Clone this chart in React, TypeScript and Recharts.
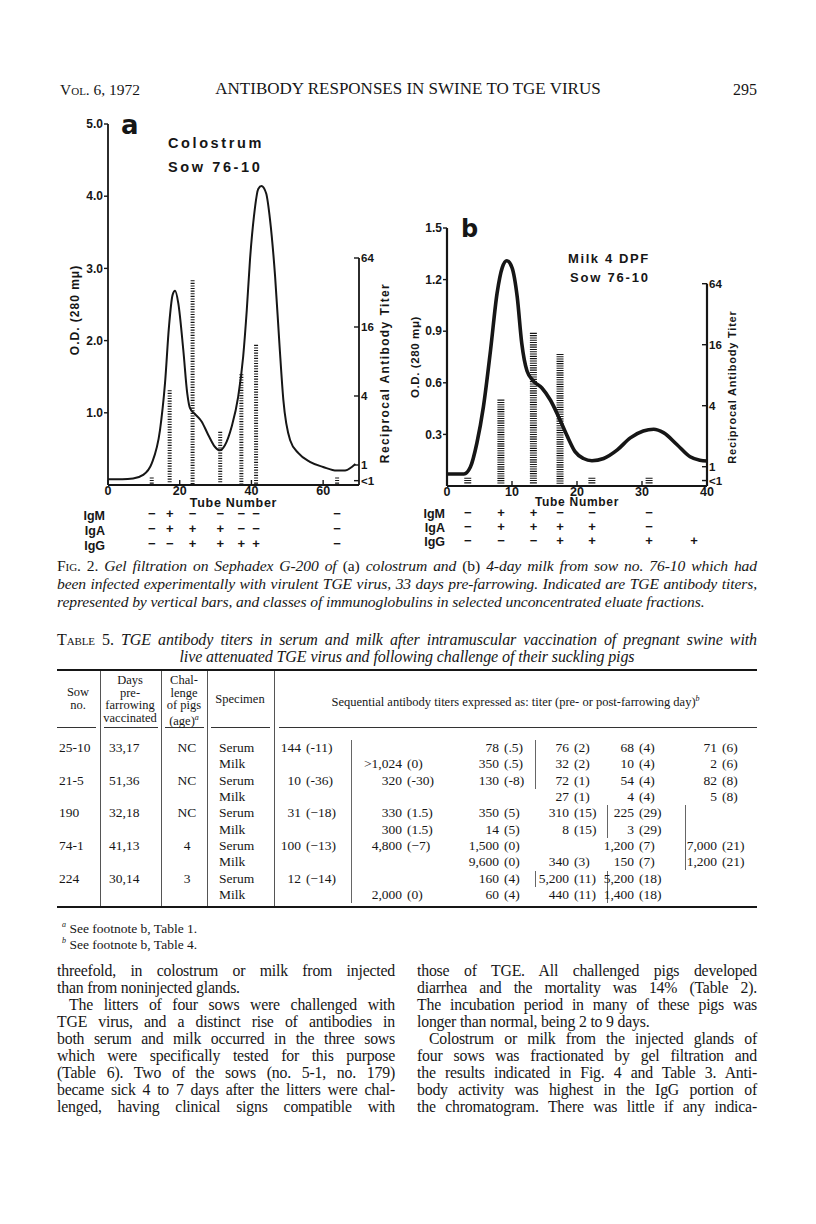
import React from "react";
import { Bar, ComposedChart, Line, ReferenceLine, XAxis, YAxis } from "recharts";

const INK = "#161616";
const SANS = "'Liberation Sans', Arial, sans-serif";
const HEAVY = "'DejaVu Sans', 'Liberation Sans', sans-serif";
const SERIF = "'Liberation Serif', 'Times New Roman', serif";

// Fig. 2a - colostrum, sow 76-10: elution curve (tube number / O.D. 280 mμ)
const tubesA = [0, 4, 7, 9.8, 12.2, 14.5, 15.9, 17, 18, 18.7, 19.6, 21, 22.1, 22.9, 24.3, 26.1, 28, 29.8, 31.2, 32.6, 34.5, 36.3, 37.7, 38.7, 39.6, 40.7, 41.9, 42.8, 44.1, 45.2, 46.6, 47.8, 48.9, 50.8, 53.1, 56.3, 60, 63.8, 66.1, 68, 69];
const odA = [0.08, 0.08, 0.09, 0.14, 0.3, 0.76, 1.41, 2.19, 2.63, 2.69, 2.52, 1.87, 1.27, 1.06, 0.98, 0.88, 0.69, 0.53, 0.48, 0.55, 0.81, 1.22, 1.78, 2.42, 3.12, 3.72, 4.1, 4.14, 4.04, 3.67, 2.89, 1.96, 1.18, 0.62, 0.44, 0.32, 0.25, 0.2, 0.2, 0.25, 0.29];
// fractions tested: reciprocal TGE titers (0.78 = "<1") and Ig classes
const fracA = [12.2, 17.2, 23.6, 31.3, 37.2, 41.3, 63.9];
const titerA = [0.78, 4.5, 41, 1.95, 6.2, 11.2, 0.78];
const igmA = ["−", "+", "−", "−", "−", "−", "−"];
const igaA = ["−", "+", "+", "+", "−", "−", "−"];
const iggA = ["−", "−", "+", "+", "+", "+", "−"];

// Fig. 2b - milk 4 DPF, sow 76-10
const tubesB = [0, 2.6, 3.6, 4.6, 5.6, 6.7, 7.7, 8.5, 9.2, 10, 10.8, 11.5, 12.3, 13.3, 14.6, 15.9, 17.2, 18.5, 19.7, 21, 22.3, 24.1, 26.2, 28.2, 30.2, 31.8, 33.3, 35.4, 37.4, 38.9, 40];
const odB = [0.07, 0.07, 0.11, 0.25, 0.46, 0.79, 1.12, 1.27, 1.31, 1.27, 1.1, 0.83, 0.67, 0.61, 0.57, 0.5, 0.4, 0.29, 0.2, 0.16, 0.147, 0.16, 0.21, 0.28, 0.32, 0.33, 0.31, 0.24, 0.17, 0.15, 0.145];
const fracB = [3.2, 8.3, 13.3, 17.4, 22.3, 31.1, 38];
const titerB = [0.78, 4.6, 21, 13, 0.78, 0.78, null];
const igmB = ["−", "+", "+", "−", "−", "−", ""];
const igaB = ["−", "+", "+", "+", "+", "−", ""];
const iggB = ["−", "−", "−", "+", "+", "+", "+"];

const titerTicks = [0.73, 1, 4, 16, 64];
const titerTickLabels = ["<1", "1", "4", "16", "64"];
const igNames = ["IgM", "IgA", "IgG"];

// Table 5
const sowNos = ["25-10", "21-5", "190", "74-1", "224"];
const daysVaccinated = ["33,17", "51,36", "32,18", "41,13", "30,14"];
const challenge = ["NC", "NC", "NC", "4", "3"];
const specimens = ["Serum", "Milk"];
const titerRows: (string | null)[][] = [
  ["144 (-11)", null, "78 (.5)", "76 (2)", "68 (4)", "71 (6)"],
  [null, ">1,024 (0)", "350 (.5)", "32 (2)", "10 (4)", "2 (6)"],
  ["10 (-36)", "320 (-30)", "130 (-8)", "72 (1)", "54 (4)", "82 (8)"],
  [null, null, null, "27 (1)", "4 (4)", "5 (8)"],
  ["31 (−18)", "330 (1.5)", "350 (5)", "310 (15)", "225 (29)", null],
  [null, "300 (1.5)", "14 (5)", "8 (15)", "3 (29)", null],
  ["100 (−13)", "4,800 (−7)", "1,500 (0)", null, "1,200 (7)", "7,000 (21)"],
  [null, null, "9,600 (0)", "340 (3)", "150 (7)", "1,200 (21)"],
  ["12 (−14)", null, "160 (4)", "5,200 (11)", "5,200 (18)", null],
  [null, "2,000 (0)", "60 (4)", "440 (11)", "1,400 (18)", null],
];

const leftLines = [
  "threefold, in colostrum or milk from injected",
  "than from noninjected glands.",
  "The litters of four sows were challenged with",
  "TGE virus, and a distinct rise of antibodies in",
  "both serum and milk occurred in the three sows",
  "which were specifically tested for this purpose",
  "(Table 6). Two of the sows (no. 5-1, no. 179)",
  "became sick 4 to 7 days after the litters were chal-",
  "lenged, having clinical signs compatible with",
];
const rightLines = [
  "those of TGE. All challenged pigs developed",
  "diarrhea and the mortality was 14% (Table 2).",
  "The incubation period in many of these pigs was",
  "longer than normal, being 2 to 9 days.",
  "Colostrum or milk from the injected glands of",
  "four sows was fractionated by gel filtration and",
  "the results indicated in Fig. 4 and Table 3. Anti-",
  "body activity was highest in the IgG portion of",
  "the chromatogram. There was little if any indica-",
];

const chartA = {
  left: 0, top: 100, width: 420, height: 470,
  margin: { top: 24, right: 16, bottom: 17, left: 68 },
  leftW: 40, rightW: 45, mainH: 23, rowH: 15, signMargin: 1,
  xMax: 70, xTicks: [0, 20, 40, 60],
  odMax: 5, odTicks: [1, 2, 3, 4, 5], odDigits: 1,
  tDomain: [-0.58, 9.884],
  barSize: 4, pitch: 2.6, lineW: 2, axisW: 1.8, tubeFont: 12.5, rowOffset: 3,
};
const chartB = {
  left: 400, top: 200, width: 360, height: 370,
  margin: { top: 28, right: 13, bottom: 21, left: 17 },
  leftW: 30, rightW: 40, mainH: 21, rowH: 14, signMargin: 1,
  xMax: 40, xTicks: [0, 10, 20, 30, 40],
  odMax: 1.5, odTicks: [0.3, 0.6, 0.9, 1.2, 1.5], odDigits: 1,
  tDomain: [-0.633, 7.826],
  barSize: 7, pitch: 2.3, lineW: 3.6, axisW: 2.2, tubeFont: 12, rowOffset: 2,
};

// striped titer bar; drawn at a fixed width around the bar's centre
function HatchBar(props: any) {
  const { x, y, width, height, pitch, size } = props;
  if (!(height > 0.5)) return null;
  const left = x + width / 2 - size / 2;
  let d = "";
  for (let yy = y + 0.6; yy < y + height - 1; yy += pitch) d += `M${left.toFixed(2)},${yy.toFixed(2)}h${size}`;
  return <path d={d} stroke={INK} strokeWidth={1.1} fill="none" />;
}

function Elution({ cfg, tubes, od, fracs, titers, ig }: any) {
  const lineData = tubes.map((t: number, i: number) => ({ tube: t, od: od[i] }));
  const low = cfg.tDomain[0];
  const barData = fracs.map((f: number, i: number) => ({
    tube: f,
    titer: titers[i] == null ? [low, low] : [low, Math.log2(titers[i])],
  }));
  const font = { fill: INK, fontFamily: SANS, fontWeight: 700 };
  return (
    <div style={{ position: "absolute", left: cfg.left, top: cfg.top }}>
      <ComposedChart width={cfg.width} height={cfg.height} data={barData} margin={cfg.margin}>
        <XAxis
          xAxisId="x0"
          dataKey="tube"
          type="number"
          domain={[0, cfg.xMax]}
          ticks={cfg.xTicks}
          interval={0}
          allowDataOverflow
          height={cfg.mainH}
          tickSize={-5}
          tickMargin={6}
          axisLine={{ stroke: INK, strokeWidth: cfg.axisW }}
          tickLine={{ stroke: INK, strokeWidth: 1.4 }}
          tick={{ ...font, fontSize: 12.5 }}
          label={{ value: "Tube Number", position: "insideBottom", offset: 1.5, ...font, fontSize: cfg.tubeFont, letterSpacing: 0.7 }}
        />
        {ig.map((row: string[], r: number) => (
          <XAxis
            key={igNames[r]}
            xAxisId={`x${r + 1}`}
            dataKey="tube"
            type="number"
            domain={[0, cfg.xMax]}
            ticks={fracs}
            interval={0}
            allowDataOverflow
            height={cfg.rowH}
            axisLine={false}
            tickLine={false}
            tickSize={0}
            tickMargin={cfg.signMargin}
            tickFormatter={(v: number) => row[fracs.indexOf(v)]}
            tick={{ ...font, fontSize: 13 }}
            label={{ value: igNames[r], position: "left", offset: cfg.rowOffset, ...font, fontSize: 12.5 }}
          />
        ))}
        <YAxis
          yAxisId="od"
          type="number"
          domain={[0, cfg.odMax]}
          ticks={cfg.odTicks}
          interval={0}
          allowDataOverflow
          width={cfg.leftW}
          tickSize={4}
          tickMargin={1}
          tickFormatter={(v: number) => v.toFixed(cfg.odDigits)}
          axisLine={{ stroke: INK, strokeWidth: cfg.axisW }}
          tickLine={{ stroke: INK, strokeWidth: 1.4 }}
          tick={{ ...font, fontSize: 12 }}
        />
        <YAxis
          yAxisId="t"
          orientation="right"
          type="number"
          domain={cfg.tDomain}
          ticks={titerTicks.map((t) => Math.log2(t))}
          interval={0}
          allowDataOverflow
          width={cfg.rightW}
          tickSize={-5}
          tickMargin={7}
          tickFormatter={(v: number, i: number) => titerTickLabels[i]}
          axisLine={false}
          tickLine={{ stroke: INK, strokeWidth: 1.4 }}
          tick={{ ...font, fontSize: 11.5 }}
        />
        <ReferenceLine
          xAxisId="x0"
          yAxisId="t"
          segment={[{ x: cfg.xMax, y: cfg.tDomain[0] }, { x: cfg.xMax, y: Math.log2(64) }]}
          stroke={INK}
          strokeWidth={cfg.axisW}
          ifOverflow="visible"
        />
        <Bar
          xAxisId="x0"
          yAxisId="t"
          dataKey="titer"
          barSize={cfg.barSize}
          isAnimationActive={false}
          shape={(p: any) => <HatchBar {...p} pitch={cfg.pitch} size={cfg.barSize} />}
        />
        <Line
          data={lineData}
          xAxisId="x0"
          yAxisId="od"
          dataKey="od"
          type="monotone"
          stroke={INK}
          strokeWidth={cfg.lineW}
          dot={false}
          isAnimationActive={false}
        />
      </ComposedChart>
    </div>
  );
}

function TextLine({ x, y, w, size, align = "justify", italic = false, indent = 0, spacing = 0, children }: any) {
  const lh = Math.round(size * 1.2);
  return (
    <div
      style={{
        position: "absolute",
        left: x,
        top: y - lh / 2 - size * 0.06,
        width: w,
        fontSize: size,
        lineHeight: `${lh}px`,
        whiteSpace: "nowrap",
        letterSpacing: spacing,
        textAlign: align,
        textAlignLast: align,
        textIndent: indent,
        fontStyle: italic ? "italic" : "normal",
      }}
    >
      {children}
    </div>
  );
}

const sc = { fontVariant: "small-caps" as const, fontStyle: "normal" as const };
const cell = { position: "absolute" as const, lineHeight: "16px", whiteSpace: "nowrap" as const };

function TiterCell({ text, numEnd, y }: { text: string; numEnd: number; y: number }) {
  const cut = text.indexOf(" ");
  return (
    <>
      <div style={{ ...cell, left: numEnd - 80, top: y - 8, width: 80, textAlign: "right" }}>{text.slice(0, cut)}</div>
      <div style={{ ...cell, left: numEnd + 5, top: y - 8 }}>{text.slice(cut + 1)}</div>
    </>
  );
}

function Table5() {
  const rowY = (i: number) => 748 + i * 16.35;
  const numEnds = [301, 402, 499, 569, 634, 717];
  const colSeps = [100, 161, 207, 274];
  const innerSeps = [[351, 0, 9], [535, 0, 2], [535, 8, 8], [607, 4, 5], [607, 8, 9], [685, 4, 7]];
  const headRule = [[57, 96], [104, 158], [165, 204], [211, 270], [279, 757]];
  const hdr = (lines: string[], cx: number, y0: number, step: number) =>
    lines.map((s, i) => (
      <div key={s} style={{ ...cell, left: cx - 40, width: 80, top: y0 + i * step - 7, lineHeight: "14px", textAlign: "center" }}>
        {s === "(age)" ? <>(age)<sup style={{ fontStyle: "italic", fontSize: 8 }}>a</sup></> : s}
      </div>
    ));
  return (
    <div style={{ position: "absolute", left: 0, top: 0, width: 816, fontSize: 13.5 }}>
      <div style={{ position: "absolute", left: 57, top: 669, width: 700, height: 2, background: INK }} />
      <div style={{ position: "absolute", left: 57, top: 906, width: 700, height: 2, background: INK }} />
      {headRule.map(([a, b]) => (
        <div key={a} style={{ position: "absolute", left: a, top: 727, width: b - a, height: 1, background: "#333" }} />
      ))}
      {colSeps.map((x) => (
        <div key={x} style={{ position: "absolute", left: x, top: 671, width: 1, height: 235, background: "#555" }} />
      ))}
      {innerSeps.map(([x, r0, r1]) => (
        <div key={`${x}-${r0}`} style={{ position: "absolute", left: x, top: rowY(r0) - 8, width: 1, height: rowY(r1) - rowY(r0) + 16, background: "#666" }} />
      ))}
      <div style={{ fontSize: 12.5 }}>
        {hdr(["Sow", "no."], 78, 692, 13)}
        {hdr(["Days", "pre-", "farrowing", "vaccinated"], 130, 680, 12.5)}
        {hdr(["Chal-", "lenge", "of pigs", "(age)"], 184, 680, 12.5)}
        {hdr(["Specimen"], 240, 699, 0)}
        <div style={{ ...cell, left: 274, width: 483, top: 692, lineHeight: "14px", textAlign: "center" }}>
          Sequential antibody titers expressed as: titer (pre- or post-farrowing day)
          <sup style={{ fontStyle: "italic", fontSize: 8 }}>b</sup>
        </div>
      </div>
      {titerRows.map((row, i) => {
        const y = rowY(i);
        const s = Math.floor(i / 2);
        return (
          <React.Fragment key={i}>
            {i % 2 === 0 && (
              <>
                <div style={{ ...cell, left: 59, top: y - 8 }}>{sowNos[s]}</div>
                <div style={{ ...cell, left: 109, top: y - 8 }}>{daysVaccinated[s]}</div>
                <div style={{ ...cell, left: 167, width: 40, top: y - 8, textAlign: "center" }}>{challenge[s]}</div>
              </>
            )}
            <div style={{ ...cell, left: 219, top: y - 8 }}>{specimens[i % 2]}</div>
            {row.map((t, c) => (t ? <TiterCell key={c} text={t} numEnd={numEnds[c]} y={y} /> : null))}
          </React.Fragment>
        );
      })}
      <div style={{ ...cell, left: 62, top: 917 }}>
        <sup style={{ fontStyle: "italic", fontSize: 8 }}>a</sup> See footnote b, Table 1.
      </div>
      <div style={{ ...cell, left: 62, top: 933 }}>
        <sup style={{ fontStyle: "italic", fontSize: 8 }}>b</sup> See footnote b, Table 4.
      </div>
    </div>
  );
}

function ChartText() {
  const bold = { fontFamily: SANS, fontWeight: 700, fill: INK };
  return (
    <svg width={816} height={1224} style={{ position: "absolute", left: 0, top: 0, pointerEvents: "none" }}>
      <text x={121} y={134} style={{ fontFamily: HEAVY, fontWeight: 700, fontSize: 26, fill: INK }}>a</text>
      <text x={168} y={148} style={{ ...bold, fontSize: 14.5, letterSpacing: 2.6 }}>Colostrum</text>
      <text x={168} y={172} style={{ ...bold, fontSize: 14.5, letterSpacing: 2.6 }}>Sow 76-10</text>
      <text transform="translate(75,310) rotate(-90)" textAnchor="middle" dominantBaseline="central" style={{ ...bold, fontSize: 12, letterSpacing: 1 }}>O.D. (280 mμ)</text>
      <text transform="translate(385,373) rotate(-90)" textAnchor="middle" dominantBaseline="central" style={{ ...bold, fontSize: 12, letterSpacing: 1.4 }}>Reciprocal Antibody Titer</text>

      <text x={461} y={237} style={{ fontFamily: HEAVY, fontWeight: 700, fontSize: 24, fill: INK }}>b</text>
      <text x={568} y={263} style={{ ...bold, fontSize: 13, letterSpacing: 1.6 }}>Milk 4 DPF</text>
      <text x={570} y={282} style={{ ...bold, fontSize: 13, letterSpacing: 1.8 }}>Sow 76-10</text>
      <text transform="translate(415,357) rotate(-90)" textAnchor="middle" dominantBaseline="central" style={{ ...bold, fontSize: 11.5, letterSpacing: 0.6 }}>O.D. (280 mμ)</text>
      <text transform="translate(732,387) rotate(-90)" textAnchor="middle" dominantBaseline="central" style={{ ...bold, fontSize: 11, letterSpacing: 0.8 }}>Reciprocal Antibody Titer</text>
    </svg>
  );
}

export default function App() {
  const body = 15.8;
  return (
    <div
      style={{
        position: "absolute", left: 0, top: 0, width: 816, height: 1224,
        background: "#fff", color: INK, fontFamily: SERIF, overflow: "hidden",
      }}
    >
      <TextLine x={60} y={90} w={200} size={15.5} align="left">
        <span style={sc}>Vol.</span> 6, 1972
      </TextLine>
      <TextLine x={100} y={90} w={616} size={17} align="center">
        ANTIBODY RESPONSES IN SWINE TO TGE VIRUS
      </TextLine>
      <TextLine x={657} y={90} w={100} size={16} align="right">295</TextLine>

      <Elution cfg={chartA} tubes={tubesA} od={odA} fracs={fracA} titers={titerA} ig={[igmA, igaA, iggA]} />
      <Elution cfg={chartB} tubes={tubesB} od={odB} fracs={fracB} titers={titerB} ig={[igmB, igaB, iggB]} />
      <ChartText />

      <TextLine x={57} y={566} w={700} size={15.6} italic spacing={-0.1}>
        <span style={sc}>Fig. 2.</span> Gel filtration on Sephadex G-200 of <span style={{ fontStyle: "normal" }}>(a)</span> colostrum and{" "}
        <span style={{ fontStyle: "normal" }}>(b)</span> 4-day milk from sow no. 76-10 which had
      </TextLine>
      <TextLine x={57} y={584} w={700} size={15.6} italic spacing={-0.1}>
        been infected experimentally with virulent TGE virus, 33 days pre-farrowing. Indicated are TGE antibody titers,
      </TextLine>
      <TextLine x={57} y={602} w={700} size={15.6} italic spacing={-0.1} align="left">
        represented by vertical bars, and classes of immunoglobulins in selected unconcentrated eluate fractions.
      </TextLine>

      <TextLine x={57} y={640} w={700} size={16} italic spacing={-0.1}>
        <span style={sc}>Table 5.</span> TGE antibody titers in serum and milk after intramuscular vaccination of pregnant swine with
      </TextLine>
      <TextLine x={57} y={657} w={700} size={16} italic spacing={-0.1} align="center">
        live attenuated TGE virus and following challenge of their suckling pigs
      </TextLine>

      <Table5 />

      {leftLines.map((s, i) => (
        <TextLine key={s} x={57} y={971 + i * 17.05} w={338} size={body} spacing={-0.2} align={i === 1 ? "left" : "justify"} indent={i === 2 ? 12 : 0}>
          {s}
        </TextLine>
      ))}
      {rightLines.map((s, i) => (
        <TextLine key={s} x={417} y={971 + i * 17.05} w={340} size={body} spacing={-0.2} align={i === 3 ? "left" : "justify"} indent={i === 4 ? 12 : 0}>
          {s}
        </TextLine>
      ))}
    </div>
  );
}
